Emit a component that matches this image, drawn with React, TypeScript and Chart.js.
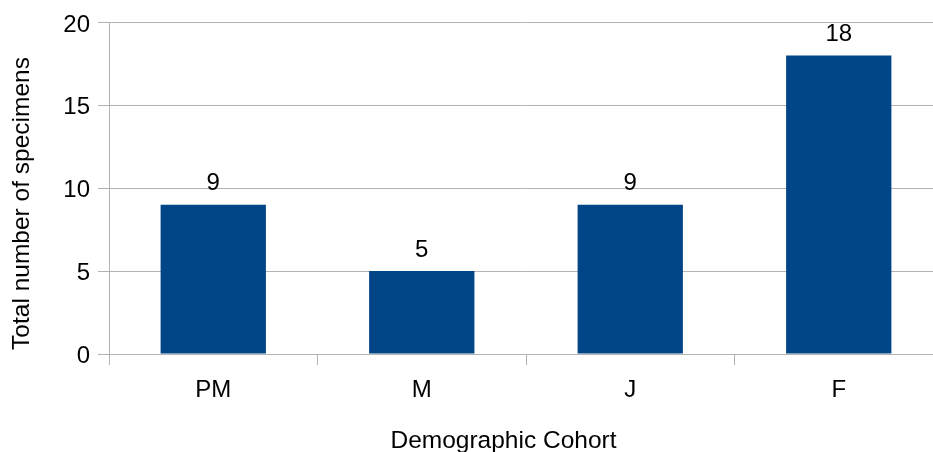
import React, { useEffect, useRef } from "react";
import { Chart, registerables } from "chart.js";

Chart.register(...registerables);

const categories: string[] = ["PM", "M", "J", "F"];
const specimenCounts: number[] = [9, 5, 9, 18];
const yTickValues: number[] = [0, 5, 10, 15, 20];
const xAxisTitle = "Demographic Cohort";
const yAxisTitle = "Total number of specimens";

const FONT = "'Liberation Sans', Arial, sans-serif";
const GRID = "#b3b3b3";
const BAR = "#004586";

const valueLabels = {
  id: "valueLabels",
  afterDatasetsDraw(chart: any) {
    const ctx = chart.ctx;
    const meta = chart.getDatasetMeta(0);
    ctx.save();
    ctx.font = `24px ${FONT}`;
    ctx.fillStyle = "#000";
    ctx.textAlign = "center";
    ctx.textBaseline = "middle";
    meta.data.forEach((bar: any, i: number) => {
      ctx.fillText(String(chart.data.datasets[0].data[i]), bar.x, bar.y - 21);
    });
    ctx.restore();
  },
};

const axisTitles = {
  id: "axisTitles",
  afterDraw(chart: any) {
    const ctx = chart.ctx;
    ctx.save();
    ctx.font = `24.5px ${FONT}`;
    ctx.fillStyle = "#000";
    ctx.textAlign = "center";
    ctx.textBaseline = "alphabetic";
    ctx.fillText(xAxisTitle, 503.5, 447.7);
    ctx.translate(29.3, 203.5);
    ctx.rotate(-Math.PI / 2);
    ctx.fillText(yAxisTitle, 0, 0);
    ctx.restore();
  },
};

export default function App() {
  const ref = useRef<HTMLCanvasElement | null>(null);
  useEffect(() => {
    if (!ref.current) return;
    const chart = new Chart(ref.current, {
      type: "bar",
      data: {
        labels: categories,
        datasets: [
          {
            data: specimenCounts,
            backgroundColor: BAR,
            borderWidth: 0,
            barPercentage: 0.505,
            categoryPercentage: 1,
          },
        ],
      },
      options: {
        animation: false,
        responsive: false,
        devicePixelRatio: 1,
        layout: { padding: { top: 21, left: 0, right: 0, bottom: 0 } },
        plugins: { legend: { display: false }, tooltip: { enabled: false } },
        scales: {
          x: {
            grid: {
              display: true,
              drawOnChartArea: false,
              drawTicks: true,
              tickLength: 11,
              color: GRID,
              offset: true,
            },
            border: { display: true, color: GRID },
            ticks: {
              color: "#000",
              font: { family: FONT, size: 24 },
              padding: 11,
            },
            afterFit(scale: any) {
              scale.height = 98;
            },
          },
          y: {
            min: 0,
            max: 20,
            afterBuildTicks(scale: any) {
              scale.ticks = yTickValues.map((v) => ({ value: v }));
            },
            grid: {
              color: GRID,
              tickLength: 11,
              drawTicks: true,
            },
            border: { display: true, color: GRID },
            ticks: {
              color: "#000",
              font: { family: FONT, size: 24 },
              padding: 8,
              labelOffset: 2.5,
            },
            afterFit(scale: any) {
              scale.width = 109;
            },
          },
        },
      },
      plugins: [valueLabels, axisTitles],
    });
    return () => chart.destroy();
  }, []);

  return (
    <div
      style={{
        position: "fixed",
        left: 0,
        top: 0,
        width: 933,
        height: 452,
        overflow: "hidden",
        background: "#fff",
      }}
    >
      <canvas ref={ref} width={943} height={452} style={{ display: "block" }} />
    </div>
  );
}
